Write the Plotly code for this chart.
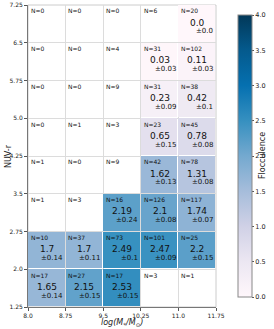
import numpy as np
import plotly.graph_objects as go

x_edges = [8.0, 8.75, 9.5, 10.25, 11.0, 11.75]
y_edges = [1.25, 2.0, 2.75, 3.5, 4.25, 5.0, 5.75, 6.5, 7.25]
x_ticktext = ["8.0", "8.75", "9.5", "10.25", "11.0", "11.75"]
y_ticktext = ["1.25", "2.0", "2.75", "3.5", "4.25", "5.0", "5.75", "6.5", "7.25"]
cbar_ticks = [0, 0.5, 1, 1.5, 2, 2.5, 3, 3.5, 4]
cbar_ticktext = ["0.0", "0.5", "1.0", "1.5", "2.0", "2.5", "3.0", "3.5", "4.0"]

# rows from bottom (y=1.25) to top; None = empty cell
counts = [
    [17, 27, 17, 3, 1],
    [10, 37, 73, 101, 25],
    [1, 3, 16, 126, 117],
    [1, 0, 9, 42, 78],
    [0, 1, 3, 23, 45],
    [0, 0, 9, 31, 38],
    [0, 0, 4, 31, 102],
    [0, 0, 0, 6, 20],
]
values = [
    [1.65, 2.15, 2.53, None, None],
    [1.7, 1.7, 2.49, 2.47, 2.2],
    [None, None, 2.19, 2.1, 1.74],
    [None, None, None, 1.62, 1.31],
    [None, None, None, 0.65, 0.78],
    [None, None, None, 0.23, 0.42],
    [None, None, None, 0.03, 0.11],
    [None, None, None, None, 0.0],
]
errors = [
    [0.14, 0.15, 0.15, None, None],
    [0.14, 0.11, 0.1, 0.09, 0.15],
    [None, None, 0.24, 0.08, 0.07],
    [None, None, None, 0.13, 0.08],
    [None, None, None, 0.15, 0.08],
    [None, None, None, 0.09, 0.1],
    [None, None, None, 0.03, 0.03],
    [None, None, None, None, 0.0],
]

xc = [(a + b) / 2 for a, b in zip(x_edges[:-1], x_edges[1:])]
yc = [(a + b) / 2 for a, b in zip(y_edges[:-1], y_edges[1:])]
z = [[np.nan if v is None else v for v in row] for row in values]

fig = go.Figure()
fig.add_trace(go.Heatmap(
    x=xc, y=yc, z=z, colorscale="PuBu", zmin=0, zmax=4,
    xgap=1, ygap=1, hoverinfo="skip",
    colorbar=dict(
        x=1.064, xanchor="left", y=0, yanchor="bottom", len=1, lenmode="fraction",
        thickness=14, outlinewidth=1, outlinecolor="#888",
        tickvals=cbar_ticks, ticktext=cbar_ticktext,
        ticks="outside", ticklen=2, tickcolor="#555",
        tickfont=dict(size=6.5, family="DejaVu Sans", color="#222"),
    ),
))

ann = []
dx = x_edges[1] - x_edges[0]
dy = y_edges[1] - y_edges[0]
for i in range(len(yc)):
    for j in range(len(xc)):
        x0 = x_edges[j]
        y1 = y_edges[i + 1]
        ann.append(dict(x=x0 + 0.02 * dx, y=y1 - 0.01 * dy, text="N=%d" % counts[i][j],
                        xanchor="left", yanchor="top", showarrow=False,
                        font=dict(size=6, family="DejaVu Sans", color="#111")))
        if values[i][j] is not None:
            ann.append(dict(x=xc[j], y=yc[i] + 0.03 * dy, text=str(values[i][j]),
                            xanchor="center", yanchor="middle", showarrow=False,
                            font=dict(size=9, family="DejaVu Sans", color="#111")))
            ann.append(dict(x=x_edges[j + 1] - 0.02 * dx, y=yc[i] - 0.2 * dy,
                            text="±" + str(errors[i][j]),
                            xanchor="right", yanchor="middle", showarrow=False,
                            font=dict(size=7, family="DejaVu Sans", color="#111")))

ann.append(dict(xref="paper", yref="paper", x=0.5, y=0, yshift=-9,
                xanchor="center", yanchor="top", showarrow=False,
                text="<i>log(M<sub>*</sub>/M<sub>⊙</sub>)</i>",
                font=dict(size=8, family="DejaVu Sans", color="#222")))
ann.append(dict(xref="paper", yref="paper", x=0, y=0.5, xshift=-20,
                xanchor="center", yanchor="middle", showarrow=False, textangle=-90,
                text="NUV-r",
                font=dict(size=8, family="DejaVu Sans", color="#222")))
ann.append(dict(xref="paper", yref="paper", x=1, y=0.5, xshift=46,
                xanchor="center", yanchor="middle", showarrow=False, textangle=-90,
                text="Flocculence",
                font=dict(size=8, family="DejaVu Sans", color="#222")))

fig.update_layout(
    width=274, height=329,
    margin=dict(l=28, r=58, t=5, b=22, autoexpand=False),
    paper_bgcolor="white", plot_bgcolor="white",
    annotations=ann,
    xaxis=dict(range=[x_edges[0], x_edges[-1]], tickvals=x_edges, ticktext=x_ticktext,
               showgrid=True, gridcolor="#dcdcdc", gridwidth=1, zeroline=False,
               ticks="outside", ticklen=3, tickcolor="#555", automargin=False,
               showline=True, linecolor="#777", linewidth=1, mirror=False,
               tickfont=dict(size=6, family="DejaVu Sans", color="#222")),
    yaxis=dict(range=[y_edges[0], y_edges[-1]], tickvals=y_edges, ticktext=y_ticktext,
               showgrid=True, gridcolor="#dcdcdc", gridwidth=1, zeroline=False,
               ticks="outside", ticklen=3, tickcolor="#555", automargin=False,
               showline=True, linecolor="#777", linewidth=1, mirror=False,
               tickfont=dict(size=6, family="DejaVu Sans", color="#222")),
    shapes=[dict(type="rect", xref="paper", yref="paper", x0=0, y0=0, x1=1, y1=1,
                 line=dict(color="#cccccc", width=1), layer="below")],
)

fig.write_html("out.html", config={"displayModeBar": False},
               post_script="document.body.style.margin='0';document.body.style.overflow='hidden';")
